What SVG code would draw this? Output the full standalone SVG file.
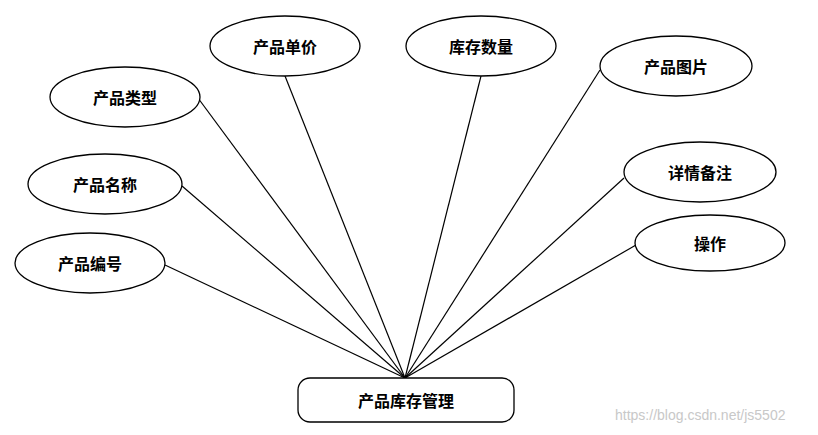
<svg xmlns="http://www.w3.org/2000/svg" width="818" height="435" viewBox="0 0 818 435">
<style>
.n{fill:#fff;stroke:#000;stroke-width:1.3}
.t{font-family:"Noto Sans CJK SC",sans-serif;font-size:16px;font-weight:bold;text-anchor:middle;dominant-baseline:central}
.c line{stroke:#000;stroke-width:1.2}
</style>
<rect width="818" height="435" fill="#fff"/>
<g class="c">
<line x1="405" y1="378" x2="165" y2="265"/>
<line x1="405" y1="378" x2="182" y2="186"/>
<line x1="405" y1="378" x2="198" y2="98"/>
<line x1="405" y1="378" x2="285" y2="76"/>
<line x1="405" y1="378" x2="481" y2="76"/>
<line x1="405" y1="378" x2="600" y2="70"/>
<line x1="405" y1="378" x2="624" y2="178"/>
<line x1="405" y1="378" x2="636" y2="245"/>
</g>
<g id="n1"><ellipse class="n" cx="285" cy="46" rx="75" ry="30"/><text class="t" x="285" y="46">产品单价</text></g>
<g id="n2"><ellipse class="n" cx="481" cy="46" rx="75" ry="30"/><text class="t" x="481" y="46">库存数量</text></g>
<g id="n3"><ellipse class="n" cx="676" cy="66" rx="76" ry="30"/><text class="t" x="676" y="66">产品图片</text></g>
<g id="n4"><ellipse class="n" cx="125" cy="97" rx="75" ry="30"/><text class="t" x="125" y="97">产品类型</text></g>
<g id="n5"><ellipse class="n" cx="700" cy="172" rx="76" ry="30"/><text class="t" x="700" y="172">详情备注</text></g>
<g id="n6"><ellipse class="n" cx="105" cy="184" rx="77" ry="30"/><text class="t" x="105" y="184">产品名称</text></g>
<g id="n7"><ellipse class="n" cx="710" cy="243" rx="75" ry="28"/><text class="t" x="710" y="243">操作</text></g>
<g id="n8"><ellipse class="n" cx="90" cy="263" rx="75" ry="30"/><text class="t" x="90" y="263">产品编号</text></g>
<g id="root"><rect class="n" x="298" y="378" width="216" height="44" rx="12"/><text class="t" x="406" y="400">产品库存管理</text></g>
<text x="615" y="420" font-family="Liberation Sans,sans-serif" font-size="14" fill="#c8c8c8">https://blog.csdn.net/js5502</text>
</svg>
